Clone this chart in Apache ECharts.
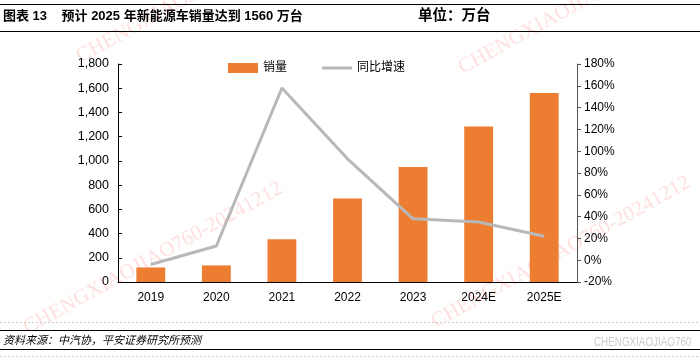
<!DOCTYPE html>
<html><head><meta charset="utf-8">
<script src="https://cdn.jsdelivr.net/npm/echarts@6/dist/echarts.min.js"></script>
<style>html,body{margin:0;padding:0;background:#fff}#c{width:700px;height:360px}</style>
</head><body><div id="c"></div>
<script>
const categories = ['2019','2020','2021','2022','2023','2024E','2025E'];
const sales = [120, 137, 352, 689, 950, 1283, 1560];
const growth = [-4, 13, 158, 93, 38, 35, 22];
const leftTicks = {min: 0, max: 1800, interval: 200};
const rightTicks = {min: -20, max: 180, interval: 20};

const FONT = '"Liberation Sans", "Noto Sans CJK SC", sans-serif';
const chart = echarts.init(document.getElementById('c'), null, {renderer: 'canvas'});
function fmtThousands(v){ return String(v).replace(/\B(?=(\d{3})+(?!\d))/g, ','); }
const wm = (x, y, t) => ({type:'text', left:x, top:y, rotation: Math.PI/6.2, silent:true, z:-1,
  style:{text:t, fill:'rgba(255,140,140,0.28)', font:'21px "Liberation Serif", serif'}});
chart.setOption({
  animation: false,
  textStyle: {fontFamily: FONT},
  grid: {left: 118, right: 123, top: 64, bottom: 78},
  legend: {
    top: 57, left: 223, itemGap: 35, itemWidth: 30, itemHeight: 10,
    textStyle: {fontSize: 12, color: '#000', fontFamily: FONT},
    data: [{name:'销量', icon:'rect'}, {name:'同比增速', icon:'path://M0 0H30V3H0Z'}]
  },
  xAxis: {
    type: 'category', data: categories,
    axisLine: {lineStyle: {color: '#000', width: 1}},
    axisTick: {inside: true, length: 5, lineStyle: {color: '#000'}},
    axisLabel: {fontSize: 12, color: '#000', margin: 10, fontFamily: FONT}
  },
  yAxis: [{
    type: 'value', min: leftTicks.min, max: leftTicks.max, interval: leftTicks.interval,
    splitLine: {show: false},
    axisLine: {show: true, lineStyle: {color: '#000'}},
    axisTick: {show: true, inside: true, length: 4, lineStyle: {color: '#000'}},
    axisLabel: {fontSize: 12.5, color: '#000', margin: 9, formatter: v => fmtThousands(v), fontFamily: FONT}
  }, {
    type: 'value', min: rightTicks.min, max: rightTicks.max, interval: rightTicks.interval,
    splitLine: {show: false},
    axisLine: {show: true, lineStyle: {color: '#555'}},
    axisTick: {show: true, length: 4, lineStyle: {color: '#555'}},
    axisLabel: {fontSize: 12, color: '#000', margin: 7, formatter: '{value}%', fontFamily: FONT}
  }],
  series: [{
    name: '销量', type: 'bar', data: sales, barWidth: '44%', yAxisIndex: 0,
    itemStyle: {color: '#ED7D31'}
  }, {
    name: '同比增速', type: 'line', data: growth, yAxisIndex: 1,
    showSymbol: false, symbol: 'none',
    lineStyle: {color: '#B8B8B8', width: 3}, itemStyle: {color: '#B8B8B8'}
  }],
  graphic: [
    wm(20, 178, 'CHENGXIAOJIAO760-20241212'),
    wm(428, 172, 'CHENGXIAOJIAO760-20241212'),
    wm(455, -82, 'CHENGXIAOJIAO760-20241212'),
    wm(73, -93, 'CHENGXIAOJIAO760-20241212'),
    {type:'line', shape:{x1:0,y1:4.5,x2:700,y2:4.5}, style:{stroke:'#000', lineWidth:1}},
    {type:'line', shape:{x1:0,y1:31.5,x2:700,y2:31.5}, style:{stroke:'#000', lineWidth:1}},
    {type:'text', left:3, top:10, style:{text:'图表 13    预计 2025 年新能源车销量达到 1560 万台', fill:'#000', font:'bold 13px "Liberation Sans", "Noto Sans CJK SC", sans-serif'}},
    {type:'text', left:418, top:9, style:{text:'单位：万台', fill:'#000', font:'bold 14.5px "Liberation Sans", "Noto Sans CJK SC", sans-serif'}},
    {type:'line', shape:{x1:0,y1:322.5,x2:700,y2:322.5}, style:{stroke:'#ccc', lineWidth:1, lineDash:[2,2]}},
    {type:'line', shape:{x1:0,y1:330.5,x2:700,y2:330.5}, style:{stroke:'#000', lineWidth:1}},
    {type:'line', shape:{x1:0,y1:349.5,x2:700,y2:349.5}, style:{stroke:'#000', lineWidth:1}},
    {type:'line', shape:{x1:0,y1:356.5,x2:700,y2:356.5}, style:{stroke:'#ccc', lineWidth:1, lineDash:[2,2]}},
    {type:'text', left:3, top:334, style:{text:'资料来源：中汽协，平安证券研究所预测', fill:'#000', font:'italic 11px "Noto Sans CJK SC", sans-serif'}},
    {type:'text', x:594, y:337, scaleX:0.82, style:{text:'CHENGXIAOJIAO760', fill:'#cccccc', font:'12px "Liberation Sans", sans-serif'}}
  ]
});
</script></body></html>
